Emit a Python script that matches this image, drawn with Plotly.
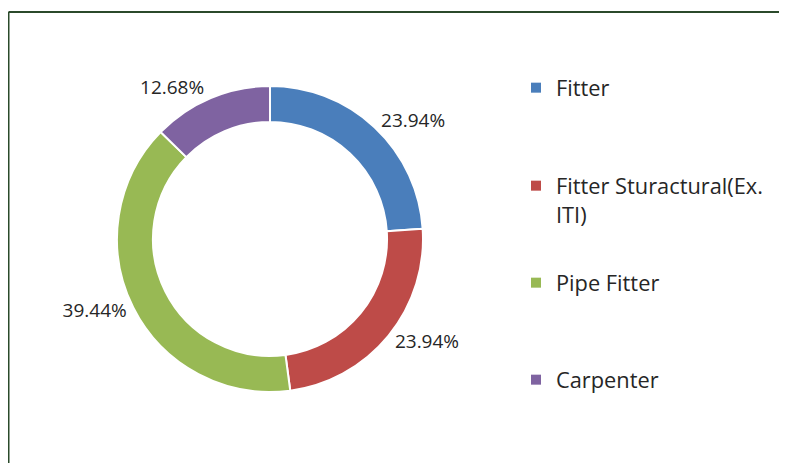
import plotly.graph_objects as go

categories = ["Fitter", "Fitter Sturactural(Ex. ITI)", "Pipe Fitter", "Carpenter"]
legend_labels = ["Fitter", "Fitter Sturactural(Ex.<br>ITI)", "Pipe Fitter", "Carpenter"]
counts = [17, 17, 28, 9]
colors = ["#4A7EBB", "#BE4B48", "#98B954", "#7F63A1"]

W, H = 787, 463
OFF = 8  # page body margin
TXT = "#262626"
FONT = "Open Sans"

cx, cy, r = 270 - OFF, 239 - OFF, 153

fig = go.Figure()
fig.add_trace(go.Pie(
    labels=categories, values=counts, sort=False, direction="clockwise",
    rotation=0, hole=0.765,
    marker=dict(colors=colors, line=dict(color="white", width=2)),
    textposition="outside", texttemplate="%{percent:.2%}",
    textfont=dict(family=FONT, size=19, color=TXT),
    showlegend=False,
    domain=dict(x=[(cx - r) / W, (cx + r) / W], y=[1 - (cy + r) / H, 1 - (cy - r) / H]),
))

legend_y = [88, 186, 283, 380]
legend_names = ["legend", "legend2", "legend3", "legend4"]
for name, lab, col in zip(legend_names, legend_labels, colors):
    fig.add_trace(go.Scatter(
        x=[None], y=[None], mode="markers", name=lab, legend=name,
        marker=dict(symbol="square", size=10, color=col, line=dict(width=0)),
        showlegend=True,
    ))

lg = dict(x=(516 - OFF) / W, xanchor="left", yanchor="top", bgcolor="rgba(0,0,0,0)",
          borderwidth=0, font=dict(family=FONT, size=21.8, color=TXT), valign="top")
layout_legends = {}
for name, yy in zip(legend_names, legend_y):
    layout_legends[name] = dict(lg, y=1 - (yy - OFF - 21) / H)

frame_x = 0.5 / W
frame_y = 1 - (12 - OFF) / H
fig.update_layout(
    width=W, height=H, margin=dict(l=0, r=0, t=0, b=0),
    paper_bgcolor="white", plot_bgcolor="white",
    xaxis=dict(visible=False), yaxis=dict(visible=False),
    font=dict(family=FONT, color=TXT),
    **layout_legends,
    shapes=[
        dict(type="line", xref="paper", yref="paper", x0=frame_x, x1=1.05, y0=frame_y, y1=frame_y,
             line=dict(color="#2B4A2B", width=2)),
        dict(type="line", xref="paper", yref="paper", x0=frame_x, x1=frame_x, y0=-0.05, y1=frame_y,
             line=dict(color="#2B4A2B", width=2)),
    ],
)

fig.write_html("out.html")
